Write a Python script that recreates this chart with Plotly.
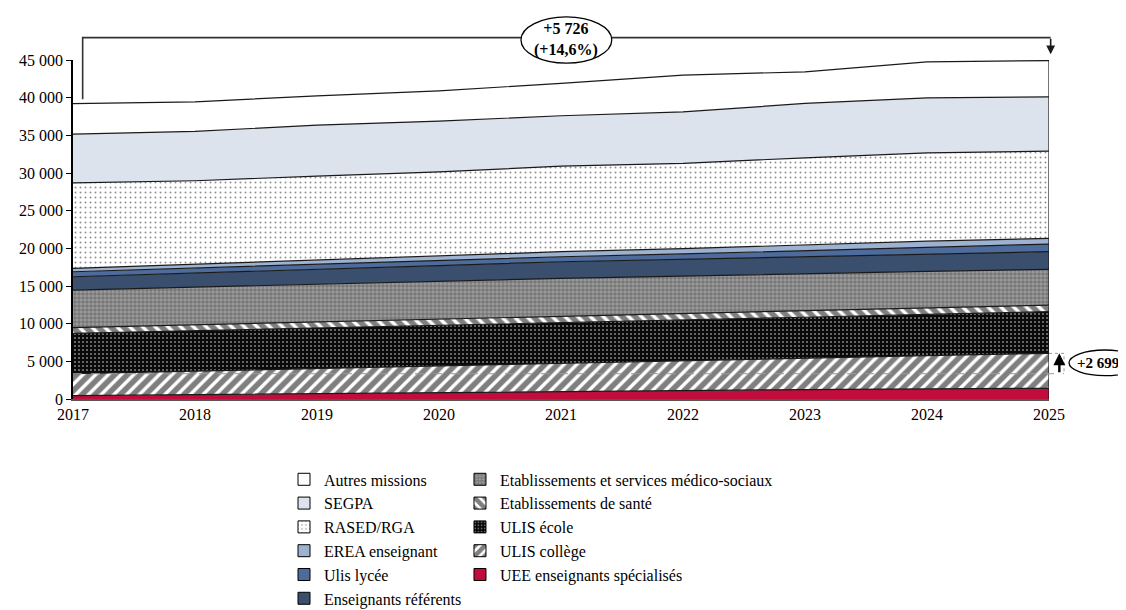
import plotly.graph_objects as go

# ---------------- data ----------------
years = [2017, 2018, 2019, 2020, 2021, 2022, 2023, 2024, 2025]

uee = [440, 590, 740, 880, 1050, 1150, 1250, 1350, 1420]
ulis_college = [2920, 3110, 3340, 3550, 3750, 3970, 4170, 4410, 4639]
ulis_ecole = [5360, 5360, 5320, 5330, 5330, 5360, 5430, 5470, 5531]
sante = [760, 790, 830, 840, 880, 880, 880, 870, 880]
esms = [4980, 5000, 5020, 5000, 5000, 4940, 4920, 4850, 4730]
ens_ref = [1770, 1850, 1950, 2100, 2210, 2250, 2250, 2350, 2350]
ulis_lycee = [660, 680, 680, 680, 660, 710, 800, 900, 1020]
erea = [450, 490, 520, 570, 670, 690, 750, 750, 750]
rased = [11360, 11100, 11190, 11210, 11350, 11320, 11570, 11730, 11580]
segpa = [6470, 6550, 6770, 6730, 6700, 6850, 7210, 7300, 7200]
autres = [4030, 3930, 3890, 4020, 4290, 4870, 4200, 4780, 4826]

y_tickvals = [0, 5000, 10000, 15000, 20000, 25000, 30000, 35000, 40000, 45000]
y_ticktext = ["0", "5 000", "10 000", "15 000", "20 000", "25 000",
              "30 000", "35 000", "40 000", "45 000"]

FONT = "Liberation Serif"

series = [
    ("UEE enseignants spécialisés", uee, dict(color="#C20C3C")),
    ("ULIS collège", ulis_college,
     dict(color="white", pattern=dict(shape="/", fgcolor="black", bgcolor="white", size=9, solidity=0.62))),
    ("ULIS école", ulis_ecole,
     dict(color="black", pattern=dict(shape=".", fgcolor="white", bgcolor="#0a0a0a", size=4, solidity=0.2))),
    ("Etablissements de santé", sante,
     dict(color="white", pattern=dict(shape="\\", fgcolor="black", bgcolor="white", size=9, solidity=0.62))),
    ("Etablissements et services médico-sociaux", esms,
     dict(color="#999999", pattern=dict(shape="+", fgcolor="#1a1a1a", bgcolor="#9a9a9a", size=4, solidity=0.3))),
    ("Enseignants référents", ens_ref, dict(color="#3A4E6E")),
    ("Ulis lycée", ulis_lycee, dict(color="#4E6C9B")),
    ("EREA enseignant", erea, dict(color="#9DB1D0")),
    ("RASED/RGA", rased,
     dict(color="white", pattern=dict(shape=".", fgcolor="#222222", bgcolor="white", size=5, solidity=0.12))),
    ("SEGPA", segpa, dict(color="#DDE3ED")),
    ("Autres missions", autres, dict(color="white")),
]

fig = go.Figure()

# stacked areas
for name, vals, st in series:
    kw = {}
    if "pattern" in st:
        kw["fillpattern"] = st["pattern"]
    fig.add_trace(go.Scatter(
        x=years, y=vals, name=name, stackgroup="one", mode="lines",
        line=dict(color="#1a1a1a", width=1.2), fillcolor=st["color"],
        showlegend=False, hoverinfo="skip", **kw))

# legend entries (dummy bars carrying the fills)
legend1_order = ["Autres missions", "SEGPA", "RASED/RGA", "EREA enseignant",
                 "Ulis lycée", "Enseignants référents"]
legend2_order = ["Etablissements et services médico-sociaux", "Etablissements de santé",
                 "ULIS école", "ULIS collège", "UEE enseignants spécialisés"]
lookup = {s[0]: s for s in series}
for order, lg in ((legend1_order, "legend"), (legend2_order, "legend2")):
    for nm in order:
        st = lookup[nm][2]
        marker = dict(color=st["color"], line=dict(color="black", width=1))
        if "pattern" in st:
            marker["pattern"] = st["pattern"]
        fig.add_trace(go.Bar(x=[None], y=[None], name=nm, marker=marker,
                             showlegend=True, legend=lg, hoverinfo="skip"))

# ---------------- annotations ----------------
totals = [sum(v) for v in zip(*[s[1] for s in series])]
diff_total = totals[-1] - totals[0]
pct_total = diff_total / totals[0] * 100
bottom2 = [a + b for a, b in zip(uee, ulis_college)]
diff_bottom = bottom2[-1] - bottom2[0]


def fr(n):
    return f"{n:,}".replace(",", " ")


YMAX = 45000


def py(v):
    return v / YMAX


shapes = []
top_y = 1.066
shapes.append(dict(type="path", xref="paper", yref="paper",
                   path=f"M 0.0099 {py(totals[0] + 600):.4f} L 0.0099 {top_y} L 1.0017 {top_y}",
                   line=dict(color="#333333", width=1.6)))
shapes.append(dict(type="circle", xref="paper", yref="paper",
                   x0=0.459, x1=0.552, y0=0.991, y1=1.127,
                   fillcolor="white", line=dict(color="black", width=1.3), layer="above"))
shapes.append(dict(type="line", xref="x", yref="y", x0=years[-1], x1=years[-1],
                   y0=0, y1=totals[-1], line=dict(color="#1a1a1a", width=1.2)))
shapes.append(dict(type="line", xref="paper", yref="y", x0=0, x1=1.0154,
                   y0=bottom2[0], y1=bottom2[0],
                   line=dict(color="#9a9a9a", width=1, dash="dash")))
shapes.append(dict(type="path", xref="paper", yref="y",
                   path=f"M 1.0 {bottom2[-1]} L 1.0154 {bottom2[-1]} L 1.0154 {bottom2[0]}",
                   line=dict(color="#9a9a9a", width=1, dash="dot")))
shapes.append(dict(type="circle", xref="paper", yref="paper",
                   x0=1.0205, x1=1.094, y0=0.0687, y1=0.1445,
                   fillcolor="white", line=dict(color="black", width=1.3)))

annotations = [
    dict(xref="paper", yref="paper", x=1.0017, y=1.017, ax=0, ay=-17,
         showarrow=True, arrowhead=2, arrowsize=1.1, arrowwidth=1.6, arrowcolor="#1a1a1a", text=""),
    dict(xref="paper", yref="paper", x=0.5055, y=1.059, showarrow=False,
         xanchor="center", yanchor="middle",
         text=f"<b>+{fr(diff_total)}</b><br><b>(+{pct_total:.1f}%)</b>".replace(".", ","),
         font=dict(family=FONT, size=16, color="black")),
    dict(xref="paper", yref="y", x=1.0106, y=bottom2[-1], axref="pixel", ax=0, ayref="y", ay=bottom2[0],
         showarrow=True, arrowhead=2, arrowsize=1, arrowwidth=2.4, arrowcolor="black", text=""),
    dict(xref="paper", yref="paper", x=1.0267, y=0.1066, showarrow=False,
         xanchor="left", yanchor="middle",
         text=f"<b>+{fr(diff_bottom)}</b>", font=dict(family=FONT, size=15, color="black")),
]

legend_common = dict(xanchor="left", yanchor="top",
                     orientation="v", bgcolor="rgba(0,0,0,0)", traceorder="normal",
                     tracegroupgap=0, font=dict(family=FONT, size=16, color="black"))

# the page adds an 8px body margin, so the figure is offset by 8px
fig.update_layout(
    width=1126, height=610, autosize=False,
    margin=dict(l=65, r=85, t=52, b=219, autoexpand=False),
    paper_bgcolor="white", plot_bgcolor="white",
    font=dict(family=FONT, size=16, color="black"),
    hovermode=False,
    shapes=shapes, annotations=annotations,
    legend=dict(x=0.2162, y=-0.187, **legend_common),
    legend2=dict(x=0.3965, y=-0.187, **legend_common),
    xaxis=dict(range=[years[0], years[-1]], tickvals=years, ticktext=[str(y) for y in years],
               showgrid=False, zeroline=False, showline=True, linecolor="#555555", linewidth=1.5,
               ticks="", automargin=False, tickfont=dict(family=FONT, size=16, color="black")),
    yaxis=dict(range=[0, YMAX], tickvals=y_tickvals, ticktext=y_ticktext,
               showgrid=False, zeroline=False, showline=True, linecolor="black", linewidth=1.5,
               ticks="outside", ticklen=5, tickcolor="black", tickwidth=1.2, automargin=False,
               tickfont=dict(family=FONT, size=16, color="black")),
)

fig.write_html("out.html")
